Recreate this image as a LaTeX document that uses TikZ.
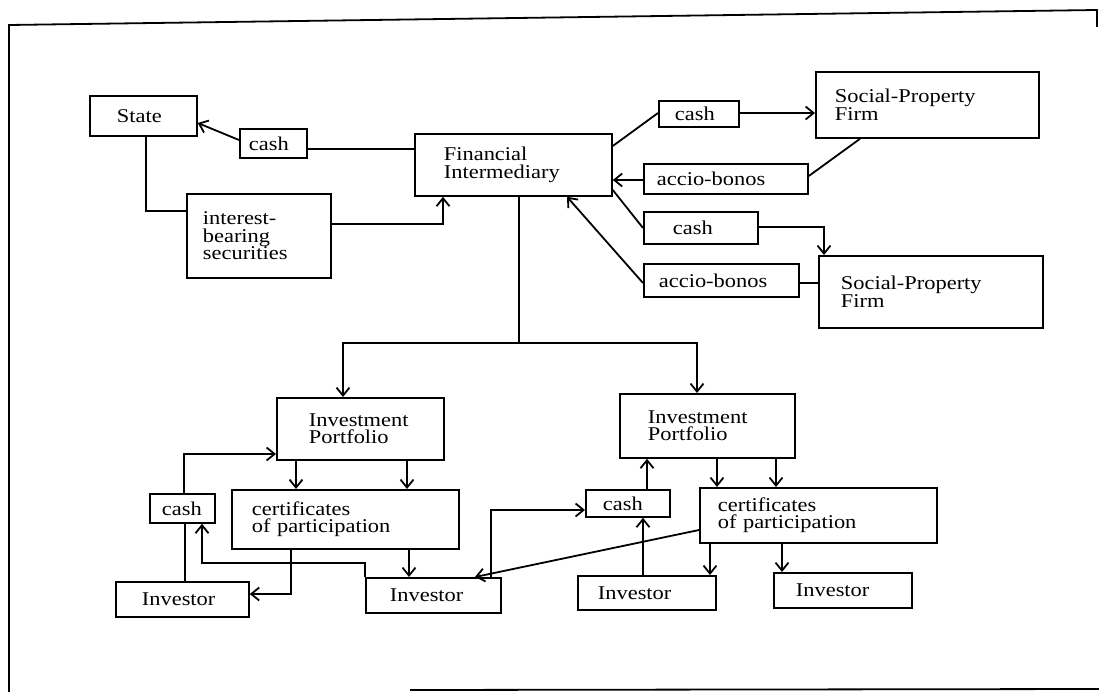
\documentclass[tikz,border=0pt]{standalone}
\usepackage{fontspec}
\setmainfont{Liberation Serif}[FakeStretch=1.15]
\usetikzlibrary{arrows.meta}
\tikzset{
  bx/.style={draw, line width=1.8pt, rectangle, anchor=north west, align=left,
    inner ysep=0pt, font=\fontsize{19.5}{17.5}\selectfont},
  ln/.style={line width=1.8pt},
  ar/.style={line width=1.8pt, -{Straight Barb[length=8pt,width=13pt]}},
}
\begin{document}
\begin{tikzpicture}[x=1pt,y=-1pt]
\useasboundingbox (0,0) rectangle (1099,692);
\fill[white] (0,0) rectangle (1099,692);
% frame
\coordinate (ftl) at (9,25);
\coordinate (ftr) at (1097,10);
\coordinate (fbl) at (9,692);
\coordinate (frb) at (1097,27);
\coordinate (fb1) at (410,690);
\coordinate (fb2) at (1099,689);
\draw[ln] (fbl) -- (ftl) -- (ftr) -- (frb);
\draw[ln] (fb1) -- (fb2);
% boxes
\node[bx, minimum height=40pt, inner xsep=27pt, text width=53pt] (state) at (89,95) {State};
\node[bx, minimum height=29pt, inner xsep=9pt, text width=49pt] (cash1) at (239,128) {cash};
\node[bx, minimum height=62pt, inner xsep=29pt, text width=139pt] (fi) at (414,133) {Financial\\Intermediary};
\node[bx, minimum height=84pt, inner xsep=16pt, text width=112pt] (interest) at (186,193) {interest-\\bearing\\securities};
\node[bx, minimum height=26pt, inner xsep=16pt, text width=48pt] (cash2) at (658,100) {cash};
\node[bx, minimum height=66pt, inner xsep=19pt, text width=185pt] (spf1) at (815,71) {Social-Property\\Firm};
\node[bx, minimum height=30pt, inner xsep=13pt, text width=138pt] (accio1) at (643,163) {accio-bonos};
\node[bx, minimum height=32pt, inner xsep=29pt, text width=56pt] (cash3) at (643,211) {cash};
\node[bx, minimum height=72pt, inner xsep=22pt, text width=180pt] (spf2) at (818,255) {Social-Property\\Firm};
\node[bx, minimum height=33pt, inner xsep=15pt, text width=125pt] (accio2) at (643,263) {accio-bonos};
\node[bx, minimum height=62pt, inner xsep=32pt, text width=103pt] (ip1) at (276,397) {Investment\\Portfolio};
\node[bx, minimum height=59pt, inner xsep=20pt, text width=187pt] (cp1) at (231,489) {certificates\\of participation};
\node[bx, minimum height=29pt, inner xsep=12pt, text width=41pt] (cash4) at (149,493) {cash};
\node[bx, minimum height=35pt, inner xsep=26pt, text width=81pt] (inv1) at (115,581) {Investor};
\node[bx, minimum height=35pt, inner xsep=24pt, text width=87pt] (inv2) at (365,577) {Investor};
\node[bx, minimum height=64pt, inner xsep=28pt, text width=119pt] (ip2) at (619,393) {Investment\\Portfolio};
\node[bx, minimum height=27pt, inner xsep=17pt, text width=50pt] (cash5) at (585,489) {cash};
\node[bx, minimum height=55pt, inner xsep=18pt, text width=201pt] (cp2) at (699,487) {certificates\\of participation};
\node[bx, minimum height=34pt, inner xsep=20pt, text width=98pt] (inv3) at (577,575) {Investor};
\node[bx, minimum height=35pt, inner xsep=22pt, text width=94pt] (inv4) at (773,572) {Investor};
% top connectors
\draw[ln] (state.south -| 146,0) |- (interest.west |- 0,211);
\draw[ar] (interest.east |- 0,224) -| (fi.south -| 443,0);
\draw[ar] (cash1.west |- 0,140) -- (state.east |- 0,123);
\draw[ln] (cash1.east |- 0,149) -- (fi.west |- 0,149);
\draw[ln] (fi.east |- 0,146) -- (cash2.west |- 0,113);
\draw[ar] (cash2.east |- 0,113) -- (spf1.west |- 0,113);
\draw[ln] (spf1.south -| 860,0) -- (accio1.east |- 0,176);
\draw[ar] (accio1.west |- 0,180) -- (fi.east |- 0,180);
\draw[ln] (fi.east |- 0,190) -- (cash3.west |- 0,228);
\draw[ar] (cash3.east |- 0,227) -| (spf2.north -| 824,0);
\draw[ln] (spf2.west |- 0,283) -- (accio2.east |- 0,283);
\draw[ar] (accio2.west |- 0,283) -- (fi.south -| 567,0);
% distribution
\coordinate (hub) at (519,343);
\draw[ln] (fi.south -| 519,0) -- (hub);
\draw[ar] (hub) -| (ip1.north -| 343,0);
\draw[ar] (hub) -| (ip2.north -| 697,0);
% left portfolio
\draw[ar] (ip1.south -| 296,0) -- (cp1.north -| 296,0);
\draw[ar] (ip1.south -| 407,0) -- (cp1.north -| 407,0);
\draw[ln] (inv1.north -| 185,0) -- (cash4.south -| 185,0);
\draw[ar] (cash4.north -| 184,0) |- (ip1.west |- 0,454);
\coordinate (b1) at (365,563);
\draw[ar] (inv2.north west) -- (b1) -| (cash4.south -| 202,0);
\draw[ar] (cp1.south -| 291,0) |- (inv1.east |- 0,594);
\draw[ar] (cp1.south -| 409,0) -- (inv2.north -| 409,0);
% right portfolio
\draw[ar] (inv2.north -| 491,0) |- (cash5.west |- 0,510);
\draw[ar] (cp2.west |- 0,530) -- (inv2.north -| 475,0);
\draw[ar] (inv3.north -| 643,0) -- (cash5.south -| 643,0);
\draw[ar] (cash5.north -| 647,0) -- (ip2.south -| 647,0);
\draw[ar] (ip2.south -| 717,0) -- (cp2.north -| 717,0);
\draw[ar] (ip2.south -| 776,0) -- (cp2.north -| 776,0);
\draw[ar] (cp2.south -| 710,0) -- (inv3.north -| 710,0);
\draw[ar] (cp2.south -| 782,0) -- (inv4.north -| 782,0);
\end{tikzpicture}
\end{document}
